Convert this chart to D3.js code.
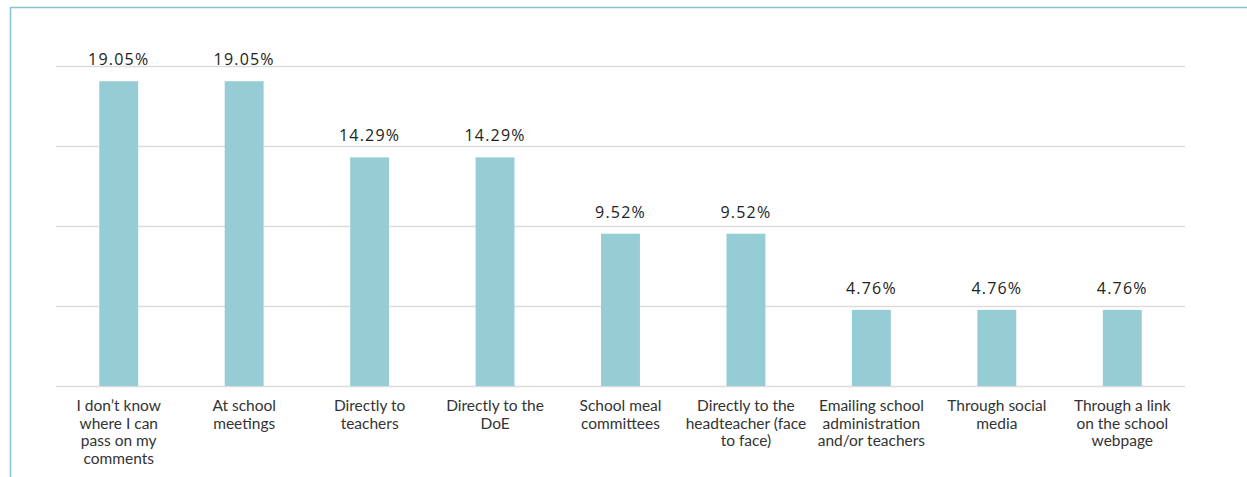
<!DOCTYPE html>
<html>
<head>
<meta charset="utf-8">
<script src="https://cdn.jsdelivr.net/npm/d3@7"></script>
<style>
  body { margin: 0; background: #fff; }
  svg { display: block; }
  .val { font-family: "Open Sans", sans-serif; font-size: 16px; fill: #222; }
  .cat { font-family: Lato, sans-serif; font-size: 15.5px; fill: #333; }
</style>
</head>
<body>
<svg width="1247" height="477"></svg>
<script>
// categories as printed under the bars (line breaks as in the chart)
var categories = [
  "I don\u2019t know\nwhere I can\npass on my\ncomments",
  "At school\nmeetings",
  "Directly to\nteachers",
  "Directly to the\nDoE",
  "School meal\ncommittees",
  "Directly to the\nheadteacher (face\nto face)",
  "Emailing school\nadministration\nand/or teachers",
  "Through social\nmedia",
  "Through a link\non the school\nwebpage"
];
var values = [19.05, 19.05, 14.29, 14.29, 9.52, 9.52, 4.76, 4.76, 4.76];
var yTicks = [0, 5, 10, 15, 20];

var svg = d3.select('svg');
var margin = {top: 66, left: 56, right: 62, bottom: 91};
var width = 1247 - margin.left - margin.right,
    height = 477 - margin.top - margin.bottom;

// frame lines top and left
svg.append('line')
    .attr('x1', 10).attr('x2', 1247).attr('y1', 7.5).attr('y2', 7.5)
    .attr('stroke', '#86c5cf').attr('stroke-width', 1.5);
svg.append('line')
    .attr('x1', 10.5).attr('x2', 10.5).attr('y1', 7).attr('y2', 477)
    .attr('stroke', '#86c5cf').attr('stroke-width', 1.5);

var g = svg.append('g').attr('transform', 'translate(' + margin.left + ',' + margin.top + ')');

var x = d3.scaleBand()
    .domain(d3.range(categories.length))
    .range([0, width])
    .paddingInner(0.69)
    .paddingOuter(0.345);

var y = d3.scaleLinear().domain([0, 20]).range([height, 0]);

// gridlines
g.selectAll('.grid')
    .data(yTicks)
    .enter().append('line')
    .attr('class', 'grid')
    .attr('x1', 0).attr('x2', width)
    .attr('y1', function(d) { return Math.round(y(d)) + 0.5; })
    .attr('y2', function(d) { return Math.round(y(d)) + 0.5; })
    .attr('stroke', '#dcdcdc')
    .attr('stroke-width', 1.5);

g.selectAll('.bar')
    .data(values)
    .enter().append('rect')
    .attr('class', 'bar')
    .attr('x', function(d, i) { return x(i); })
    .attr('y', function(d) { return y(d); })
    .attr('width', x.bandwidth())
    .attr('height', function(d) { return height - y(d); })
    .attr('fill', '#96cdd4');

g.selectAll('.val')
    .data(values)
    .enter().append('text')
    .attr('class', 'val')
    .attr('x', function(d, i) { return x(i) + x.bandwidth() / 2; })
    .attr('y', function(d) { return y(d) - 16; })
    .attr('text-anchor', 'middle')
    .attr('letter-spacing', '1.2px')
    .text(function(d) { return d.toFixed(2) + '%'; });

var cat = g.selectAll('.cat')
    .data(categories)
    .enter().append('text')
    .attr('class', 'cat')
    .attr('text-anchor', 'middle')
    .attr('transform', function(d, i) {
      return 'translate(' + (x(i) + x.bandwidth() / 2) + ',' + (height + 25) + ')';
    });

cat.selectAll('tspan')
    .data(function(d) { return d.split('\n'); })
    .enter().append('tspan')
    .attr('x', 0)
    .attr('y', function(d, i) { return i * 17.7; })
    .text(function(d) { return d; });
</script>
</body>
</html>
